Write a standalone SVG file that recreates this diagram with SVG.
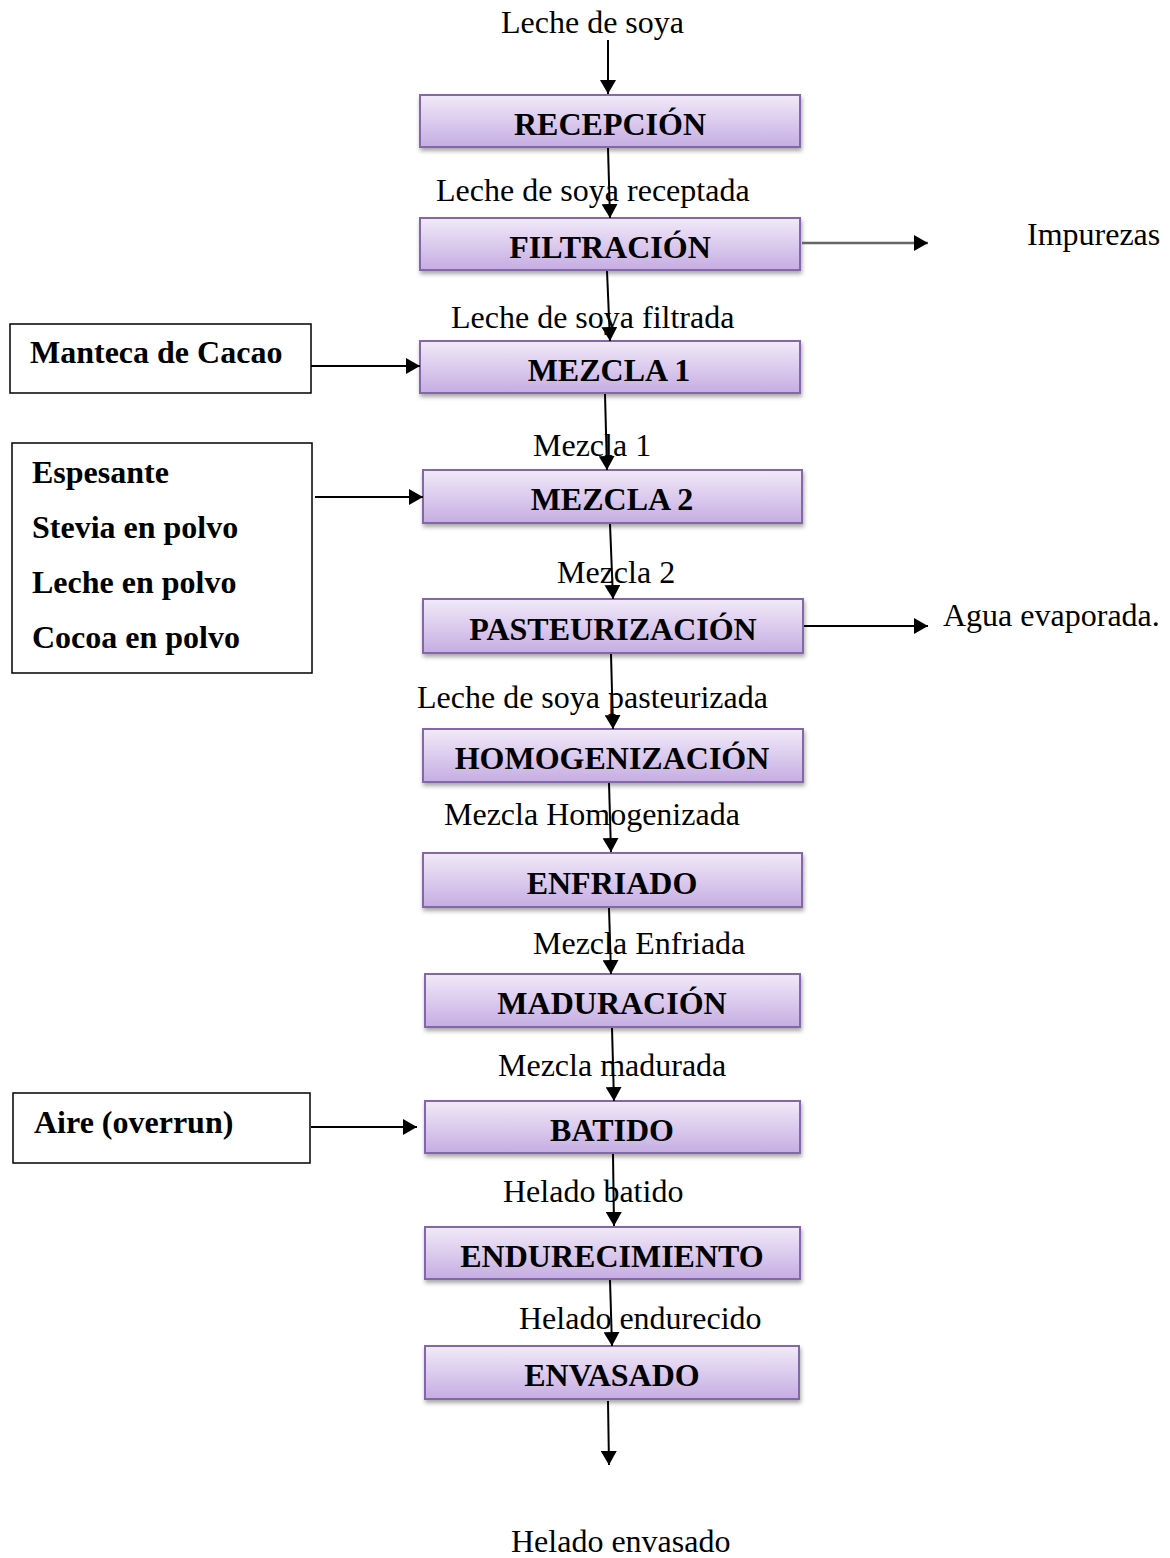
<svg xmlns="http://www.w3.org/2000/svg" width="1170" height="1558" viewBox="0 0 1170 1558">
  <defs>
    <linearGradient id="procFill" x1="0" y1="0" x2="0" y2="1">
      <stop offset="0" stop-color="#f1eaf8"/>
      <stop offset="0.5" stop-color="#dccbee"/>
      <stop offset="1" stop-color="#c5ade2"/>
    </linearGradient>
    <filter id="shadow" x="-5%" y="-30%" width="110%" height="170%">
      <feDropShadow dx="1" dy="3" stdDeviation="2" flood-color="#000" flood-opacity="0.35"/>
    </filter>
    <marker id="arrow" viewBox="0 0 14 16" refX="14" refY="8" markerWidth="14" markerHeight="16" markerUnits="userSpaceOnUse" orient="auto">
      <path d="M0,0 L14,8 L0,16 Z" fill="#000"/>
    </marker>
  </defs>
  <style>
    .proc rect { fill: url(#procFill); stroke: #8466ab; stroke-width: 2; filter: url(#shadow); }
    .proc text { font-family: "Liberation Serif", "Times New Roman", serif; font-weight: bold; font-size: 32px; fill: #000; text-anchor: middle; }
    .side rect { fill: #fff; stroke: #000; stroke-width: 1.5; }
    .side text { font-family: "Liberation Serif", "Times New Roman", serif; font-weight: bold; font-size: 32px; fill: #000; }
    .label { font-family: "Liberation Serif", "Times New Roman", serif; font-size: 32px; fill: #000; }
    .conn line { stroke: #000; stroke-width: 2; marker-end: url(#arrow); }
    .conn line.grey { stroke: #666; stroke-width: 2.5; }
  </style>

  <rect width="1170" height="1558" fill="#fff"/>

  <!-- process steps -->
  <g id="recepcion" class="proc"><rect x="420" y="95" width="380" height="52"/><text x="610" y="135">RECEPCIÓN</text></g>
  <g id="filtracion" class="proc"><rect x="420" y="218" width="380" height="52"/><text x="610" y="258">FILTRACIÓN</text></g>
  <g id="mezcla1" class="proc"><rect x="420" y="341" width="380" height="52"/><text x="609" y="381">MEZCLA 1</text></g>
  <g id="mezcla2" class="proc"><rect x="423" y="470" width="379" height="53"/><text x="612" y="510">MEZCLA 2</text></g>
  <g id="pasteurizacion" class="proc"><rect x="423" y="599" width="380" height="54"/><text x="613" y="640">PASTEURIZACIÓN</text></g>
  <g id="homogenizacion" class="proc"><rect x="423" y="729" width="380" height="53"/><text x="612" y="769">HOMOGENIZACIÓN</text></g>
  <g id="enfriado" class="proc"><rect x="423" y="853" width="379" height="54"/><text x="612" y="894">ENFRIADO</text></g>
  <g id="maduracion" class="proc"><rect x="425" y="974" width="375" height="53"/><text x="612" y="1014">MADURACIÓN</text></g>
  <g id="batido" class="proc"><rect x="425" y="1101" width="375" height="52"/><text x="612" y="1141">BATIDO</text></g>
  <g id="endurecimiento" class="proc"><rect x="425" y="1227" width="375" height="52"/><text x="612" y="1267">ENDURECIMIENTO</text></g>
  <g id="envasado" class="proc"><rect x="425" y="1346" width="374" height="53"/><text x="612" y="1386">ENVASADO</text></g>

  <!-- ingredient inputs -->
  <g id="manteca" class="side"><rect x="10" y="324" width="301" height="69"/><text x="30" y="363">Manteca de Cacao</text></g>
  <g id="ingredientes" class="side">
    <rect x="12" y="443" width="300" height="230"/>
    <text x="32" y="483">Espesante</text>
    <text x="32" y="538">Stevia en polvo</text>
    <text x="32" y="593">Leche en polvo</text>
    <text x="32" y="648">Cocoa en polvo</text>
  </g>
  <g id="aire" class="side"><rect x="13" y="1093" width="297" height="70"/><text x="34" y="1133">Aire (overrun)</text></g>

  <!-- flow labels -->
  <g id="labels">
    <text class="label" x="501" y="33">Leche de soya</text>
    <text class="label" x="436" y="201">Leche de soya receptada</text>
    <text class="label" x="451" y="328">Leche de soya filtrada</text>
    <text class="label" x="533" y="456">Mezcla 1</text>
    <text class="label" x="557" y="583">Mezcla 2</text>
    <text class="label" x="417" y="708">Leche de soya pasteurizada</text>
    <text class="label" x="444" y="825">Mezcla Homogenizada</text>
    <text class="label" x="533" y="954">Mezcla Enfriada</text>
    <text class="label" x="498" y="1076">Mezcla madurada</text>
    <text class="label" x="503" y="1202">Helado batido</text>
    <text class="label" x="519" y="1329">Helado endurecido</text>
    <text class="label" x="511" y="1552">Helado envasado</text>
    <text class="label" x="1027" y="245">Impurezas</text>
    <text class="label" x="943" y="626">Agua evaporada.</text>
  </g>

  <!-- connectors -->
  <g id="connectors" class="conn">
    <line x1="608" y1="40" x2="608" y2="94"/>
    <line x1="608" y1="148" x2="610" y2="218"/>
    <line x1="607" y1="271" x2="610" y2="341"/>
    <line x1="605" y1="394" x2="607" y2="470"/>
    <line x1="610" y1="524" x2="613" y2="599"/>
    <line x1="611" y1="654" x2="613" y2="729"/>
    <line x1="609" y1="783" x2="611" y2="852"/>
    <line x1="609" y1="908" x2="611" y2="974"/>
    <line x1="612" y1="1028" x2="614" y2="1101"/>
    <line x1="613" y1="1154" x2="614" y2="1226"/>
    <line x1="610" y1="1280" x2="612" y2="1346"/>
    <line x1="608" y1="1401" x2="609" y2="1465"/>
    <line x1="311" y1="366" x2="420" y2="366"/>
    <line x1="315" y1="497" x2="423" y2="497"/>
    <line x1="311" y1="1127" x2="417" y2="1127"/>
    <line class="grey" x1="802" y1="243" x2="928" y2="243"/>
    <line x1="804" y1="626" x2="928" y2="626"/>
  </g>
</svg>
